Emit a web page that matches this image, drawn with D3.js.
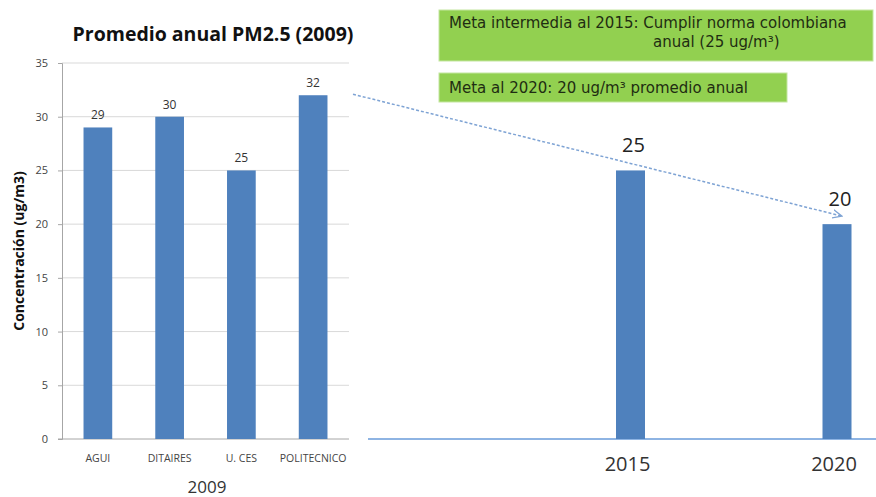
<!DOCTYPE html>
<html>
<head>
<meta charset="utf-8">
<script src="https://cdn.jsdelivr.net/npm/d3@7"></script>
<style>
  body { margin: 0; background: #fff; }
  svg { display: block; }
</style>
</head>
<body>
<div id="chart"></div>
<script>
const stations = ["AGUI", "DITAIRES", "U. CES", "POLITECNICO"];
const pm25_2009 = [29, 30, 25, 32];
const goalYears = [2015, 2020];
const goalValues = [25, 20];
const yTicks = [0, 5, 10, 15, 20, 25, 30, 35];
const goalNotes = [
  ["Meta intermedia al 2015: Cumplir norma colombiana", "anual (25 ug/m³)"],
  ["Meta al 2020: 20 ug/m³ promedio anual"]
];

(() => {
  const width = 876;
  const height = 497;
  const barColor = "#4f81bd";
  const font = "'Open Sans', 'Liberation Sans', sans-serif";

  const svg = d3
    .select("#chart")
    .append("svg")
    .attr("width", width)
    .attr("height", height);

  // shared y scale for both panels
  const yScale = d3.scaleLinear().domain([0, 35]).range([439, 63]);

  // ---- left panel
  const xScale = d3.scaleBand().domain(stations).range([62, 349]).paddingInner(0.6).paddingOuter(0.3);

  svg.append("g")
    .selectAll("line")
    .data(yTicks.filter((d) => d > 0))
    .join("line")
    .attr("x1", 62)
    .attr("x2", 349)
    .attr("y1", (d) => yScale(d))
    .attr("y2", (d) => yScale(d))
    .attr("stroke", "#d9d9d9");

  const yAxis = svg.append("g")
    .attr("transform", "translate(62,0)")
    .call(d3.axisLeft(yScale).tickValues(yTicks).tickSize(4).tickPadding(10));
  yAxis.select(".domain").attr("stroke", "#a6a6a6");
  yAxis.selectAll(".tick line").attr("stroke", "#a6a6a6");
  yAxis.selectAll("text").style("font-family", font).style("font-size", "11px").attr("fill", "#444");

  svg.append("line")
    .attr("x1", 58).attr("x2", 349)
    .attr("y1", yScale(0)).attr("y2", yScale(0))
    .attr("stroke", "#a6a6a6");

  svg.append("g")
    .selectAll("rect")
    .data(stations)
    .join("rect")
    .attr("x", (d) => xScale(d))
    .attr("width", xScale.bandwidth())
    .attr("y", (d, i) => yScale(pm25_2009[i]))
    .attr("height", (d, i) => yScale(0) - yScale(pm25_2009[i]))
    .attr("fill", barColor);

  svg.append("g")
    .selectAll("text")
    .data(stations)
    .join("text")
    .attr("x", (d) => xScale(d) + xScale.bandwidth() / 2)
    .attr("y", (d, i) => yScale(pm25_2009[i]) - 8)
    .attr("text-anchor", "middle")
    .style("font-family", font)
    .style("font-size", "12px")
    .attr("fill", "#333")
    .text((d, i) => pm25_2009[i]);

  svg.append("g")
    .selectAll("text")
    .data(stations)
    .join("text")
    .attr("x", (d) => xScale(d) + xScale.bandwidth() / 2)
    .attr("y", 462)
    .attr("text-anchor", "middle")
    .style("font-family", font)
    .style("font-size", "10.5px")
    .attr("fill", "#444")
    .text((d) => d);

  svg.append("text")
    .attr("x", 207)
    .attr("y", 493)
    .attr("text-anchor", "middle")
    .style("font-family", font)
    .style("font-size", "17px")
    .attr("fill", "#333")
    .text("2009");

  svg.append("text")
    .attr("x", 213)
    .attr("y", 41)
    .attr("text-anchor", "middle")
    .style("font-family", font)
    .style("font-size", "19.5px")
    .style("font-weight", "bold")
    .attr("fill", "#111")
    .text("Promedio anual PM2.5 (2009)");

  svg.append("text")
    .attr("transform", `translate(24,${yScale(17.5)}) rotate(-90)`)
    .attr("text-anchor", "middle")
    .style("font-family", font)
    .style("font-size", "14px")
    .style("font-weight", "bold")
    .attr("fill", "#111")
    .text("Concentración (ug/m3)");

  // ---- right panel
  const xGoal = d3.scaleLinear().domain([2015, 2020]).range([630.5, 837]);
  const goalBarW = 29;

  svg.append("line")
    .attr("x1", 368).attr("x2", width)
    .attr("y1", yScale(0)).attr("y2", yScale(0))
    .attr("stroke", "#8eb4e3")
    .attr("stroke-width", 2);

  svg.append("g")
    .selectAll("rect")
    .data(goalYears)
    .join("rect")
    .attr("x", (d) => xGoal(d) - goalBarW / 2)
    .attr("width", goalBarW)
    .attr("y", (d, i) => yScale(goalValues[i]))
    .attr("height", (d, i) => yScale(0) - yScale(goalValues[i]))
    .attr("fill", barColor);

  svg.append("g")
    .selectAll("text")
    .data(goalYears)
    .join("text")
    .attr("x", (d) => xGoal(d) + 3)
    .attr("y", (d, i) => yScale(goalValues[i]) - 18)
    .attr("text-anchor", "middle")
    .style("font-family", font)
    .style("font-size", "20px")
    .attr("fill", "#222")
    .text((d, i) => goalValues[i]);

  svg.append("g")
    .selectAll("text")
    .data(goalYears)
    .join("text")
    .attr("x", (d) => xGoal(d) - 3)
    .attr("y", 471)
    .attr("text-anchor", "middle")
    .style("font-family", font)
    .style("font-size", "20px")
    .attr("fill", "#333")
    .text((d) => d);

  // dashed trend arrow
  svg.append("defs")
    .append("marker")
    .attr("id", "arrow")
    .attr("viewBox", "0 0 10 10")
    .attr("refX", 9)
    .attr("refY", 5)
    .attr("markerWidth", 7)
    .attr("markerHeight", 7)
    .attr("orient", "auto")
    .append("path")
    .attr("d", "M0,1 L9,5 L0,9")
    .attr("fill", "none")
    .attr("stroke", "#7ea3d4")
    .attr("stroke-width", 1.2);

  svg.append("line")
    .attr("x1", 353)
    .attr("y1", yScale(32) - 1)
    .attr("x2", xGoal(2020) + 5)
    .attr("y2", yScale(20) - 8)
    .attr("stroke", "#7ea3d4")
    .attr("stroke-width", 1.5)
    .attr("stroke-dasharray", "3,2")
    .attr("marker-end", "url(#arrow)");

  // goal boxes
  const boxes = [
    { x: 439, y: 10, w: 434, h: 51 },
    { x: 439, y: 73, w: 348, h: 29 }
  ];
  const noteFont = "'DejaVu Sans', Verdana, sans-serif";
  const boxG = svg.append("g");
  boxes.forEach((b, i) => {
    boxG.append("rect")
      .attr("x", b.x).attr("y", b.y)
      .attr("width", b.w).attr("height", b.h)
      .attr("fill", "#92d050")
      .attr("stroke", "#c4e6a0");
    goalNotes[i].forEach((line, j) => {
      boxG.append("text")
        .attr("x", j === 0 ? b.x + 10 : 653)
        .attr("y", b.y + (goalNotes[i].length > 1 ? 18 : 20) + j * 19)
        .style("font-family", noteFont)
        .style("font-size", "15px")
        .attr("fill", "#1f2d12")
        .text(line);
    });
  });
})();
</script>
</body>
</html>
